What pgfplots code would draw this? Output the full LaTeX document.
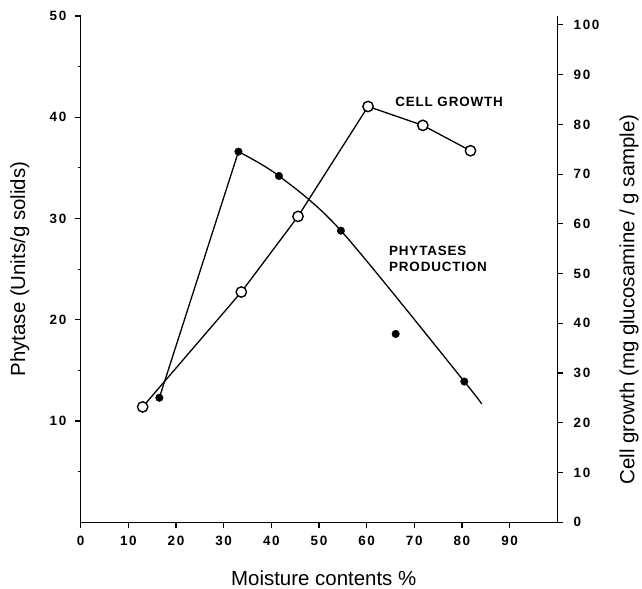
\documentclass[border=0pt]{standalone}
\usepackage{pgfplots}
\pgfplotsset{compat=1.18}
\usepackage{fontspec}
\setmainfont{Liberation Sans}
\newfontfamily\tickfont[LetterSpace=12]{Liberation Sans}
\newfontfamily\annfont[LetterSpace=6]{Liberation Sans}
\begin{document}
\begin{tikzpicture}
\begin{axis}[name=ax,
  scale only axis, width=478pt, height=508pt,
  xmin=0, xmax=100, ymin=0, ymax=50,
  axis x line*=bottom, axis y line*=left,
  axis line style={line width=1.3pt, -},
  xtick={0,10,...,90}, ytick={10,20,...,50},
  minor ytick={5,15,...,45},
  xtick align=outside, ytick align=outside,
  major tick length=6pt, minor tick length=3pt,
  tick style={line width=1.2pt, black},
  ticklabel style={font=\fontsize{13.5}{15}\tickfont\bfseries},
  yticklabel style={xshift=-5pt},
  xticklabel style={yshift=-4pt},
  /pgf/number format/assume math mode=true,
  xlabel={Moisture contents \%}, ylabel={Phytase (Units/g solids)},
  label style={font=\fontsize{20.5}{24}\selectfont},
  xlabel style={at={(axis description cs:0.51,-0.11)}, anchor=center},
  ylabel style={at={(axis description cs:-0.128,0.5)}, anchor=center},
  clip=false,
]
\addplot[black, line width=1.3pt] coordinates {(16.5,12.3) (33.1,36.6)};
\addplot[black, line width=1.3pt, smooth] coordinates {(33.1,36.6) (41.6,34.2) (54.6,28.8) (80.5,13.9) (84.1,11.7)};
\addplot[only marks, mark=*, mark size=3.8pt, black] coordinates {(16.5,12.3) (33.1,36.6) (41.6,34.2) (54.6,28.8) (66.1,18.6) (80.5,13.9)};
\node[anchor=west, font=\fontsize{13.5}{15}\annfont\bfseries] at (axis cs:65.3,41.5) {CELL GROWTH};
\node[anchor=west, align=left, font=\fontsize{13.5}{16}\annfont\bfseries] at (axis cs:64.0,26.0) {PHYTASES\\PRODUCTION};
\end{axis}
\begin{axis}[
  scale only axis, width=478pt, height=508pt,
  xmin=0, xmax=100, ymin=0, ymax=101.8,
  axis y line*=right, axis x line=none,
  axis line style={line width=1.3pt, -},
  ytick={0,10,...,100},
  ytick align=outside,
  major tick length=6pt,
  tick style={line width=1.2pt, black},
  ticklabel style={font=\fontsize{13.5}{15}\tickfont\bfseries},
  yticklabel style={xshift=7pt},
  /pgf/number format/assume math mode=true,
  ylabel={Cell growth (mg glucosamine / g sample)},
  label style={font=\fontsize{20.5}{24}\selectfont},
  ylabel style={at={(axis description cs:1.151,0.44)}, anchor=center, rotate=0},
  clip=false,
]
\addplot[black, line width=1.3pt, mark=*, mark size=5.2pt, mark options={fill=white, draw=black, line width=1.4pt, solid}] coordinates {(13.0,23.2) (33.7,46.3) (45.6,61.5) (60.3,83.6) (71.8,79.8) (81.8,74.7)};
\end{axis}
\path (ax.south west) ++(-81pt,-66pt) rectangle ++(642pt,590pt);
\end{tikzpicture}
\end{document}
